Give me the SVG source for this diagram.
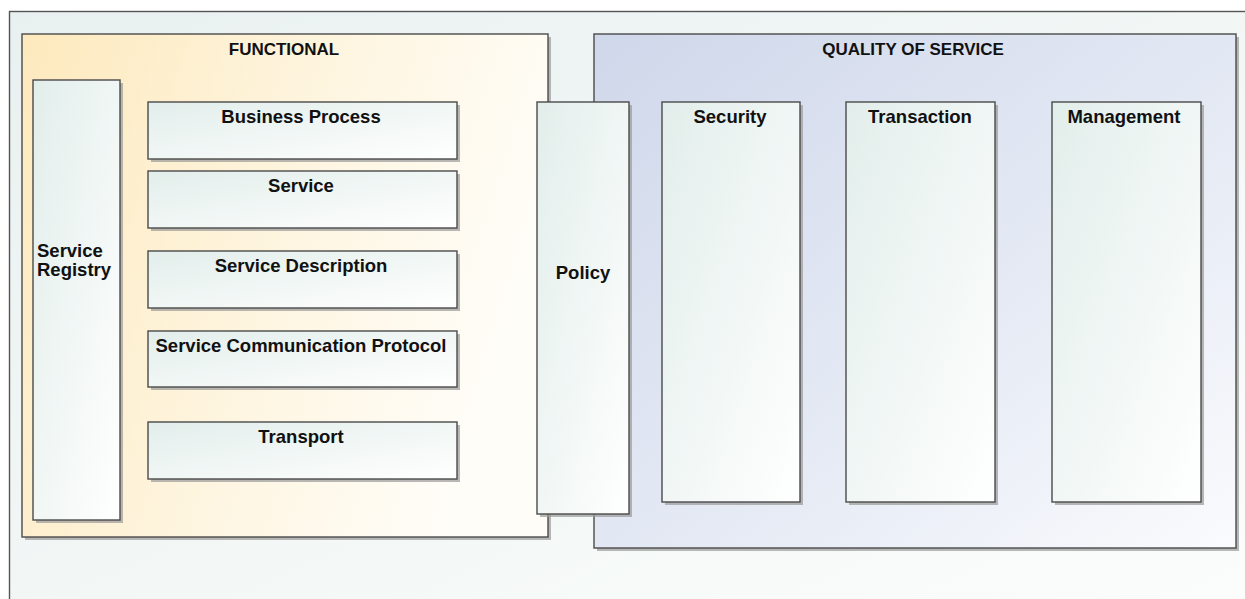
<svg xmlns="http://www.w3.org/2000/svg" width="1245" height="599" viewBox="0 0 1245 599">
<defs>
<linearGradient id="gBg" x1="0" y1="0" x2="1" y2="1"><stop offset="0" stop-color="#e9f1f0"/><stop offset="1" stop-color="#fbfdfc"/></linearGradient>
<linearGradient id="gFun" x1="0" y1="0" x2="1" y2="0.3"><stop offset="0" stop-color="#fde9bd"/><stop offset="0.6" stop-color="#fef6e2"/><stop offset="1" stop-color="#fffdf8"/></linearGradient>
<linearGradient id="gQos" x1="0" y1="0" x2="1" y2="1"><stop offset="0" stop-color="#cfd7ea"/><stop offset="0.6" stop-color="#e6ebf5"/><stop offset="1" stop-color="#fafbfd"/></linearGradient>
<linearGradient id="gBox" x1="0" y1="0" x2="1" y2="1"><stop offset="0" stop-color="#e2eeeb"/><stop offset="1" stop-color="#ffffff"/></linearGradient>
</defs>
<style>
.sh{fill:#9a9a9a;opacity:0.7}
.bx{fill:url(#gBox);stroke:#4a4a4a;stroke-width:1.4}
.t{font-family:"Liberation Sans",Arial,sans-serif;font-weight:bold;font-size:18.5px;fill:#111;text-anchor:middle}
.tt{font-family:"Liberation Sans",Arial,sans-serif;font-weight:bold;font-size:17px;fill:#111;text-anchor:middle}
.tl{font-family:"Liberation Sans",Arial,sans-serif;font-weight:bold;font-size:18.5px;fill:#111}
</style>
<rect width="1245" height="599" fill="#ffffff"/>
<rect x="9.5" y="11.5" width="1250" height="600" fill="url(#gBg)" stroke="#555" stroke-width="1.4"/>
<g id="functional">
<rect class="sh" x="25" y="37" width="526" height="503"/>
<rect x="22" y="34" width="526" height="503" fill="url(#gFun)" stroke="#4a4a4a" stroke-width="1.4"/>
<text class="tt" x="284" y="55">FUNCTIONAL</text>
</g>
<g id="qos">
<rect class="sh" x="597" y="37" width="642" height="514"/>
<rect x="594" y="34" width="642" height="514" fill="url(#gQos)" stroke="#4a4a4a" stroke-width="1.4"/>
<text class="tt" x="913" y="55">QUALITY OF SERVICE</text>
</g>
<g id="service-registry">
<rect class="sh" x="36" y="83" width="87" height="440"/>
<rect class="bx" x="33" y="80" width="87" height="440"/>
<text class="tl" x="37" y="257">Service</text>
<text class="tl" x="37" y="276">Registry</text>
</g>
<g id="business-process">
<rect class="sh" x="151" y="105" width="309" height="57"/>
<rect class="bx" x="148" y="102" width="309" height="57"/>
<text class="t" x="301" y="123">Business Process</text>
</g>
<g id="service">
<rect class="sh" x="151" y="174" width="309" height="57"/>
<rect class="bx" x="148" y="171" width="309" height="57"/>
<text class="t" x="301" y="192">Service</text>
</g>
<g id="service-description">
<rect class="sh" x="151" y="254" width="309" height="57"/>
<rect class="bx" x="148" y="251" width="309" height="57"/>
<text class="t" x="301" y="272">Service Description</text>
</g>
<g id="service-communication-protocol">
<rect class="sh" x="151" y="334" width="309" height="56"/>
<rect class="bx" x="148" y="331" width="309" height="56"/>
<text class="t" x="301" y="352">Service Communication Protocol</text>
</g>
<g id="transport">
<rect class="sh" x="151" y="425" width="309" height="57"/>
<rect class="bx" x="148" y="422" width="309" height="57"/>
<text class="t" x="301" y="443">Transport</text>
</g>
<g id="policy">
<rect class="sh" x="540" y="105" width="92" height="412"/>
<rect class="bx" x="537" y="102" width="92" height="412"/>
<text class="t" x="583" y="279">Policy</text>
</g>
<g id="security">
<rect class="sh" x="665" y="105" width="138" height="400"/>
<rect class="bx" x="662" y="102" width="138" height="400"/>
<text class="t" x="730" y="123">Security</text>
</g>
<g id="transaction">
<rect class="sh" x="849" y="105" width="149" height="400"/>
<rect class="bx" x="846" y="102" width="149" height="400"/>
<text class="t" x="920" y="123">Transaction</text>
</g>
<g id="management">
<rect class="sh" x="1055" y="105" width="149" height="400"/>
<rect class="bx" x="1052" y="102" width="149" height="400"/>
<text class="t" x="1124" y="123">Management</text>
</g>
<g id="connectors"/>
</svg>
